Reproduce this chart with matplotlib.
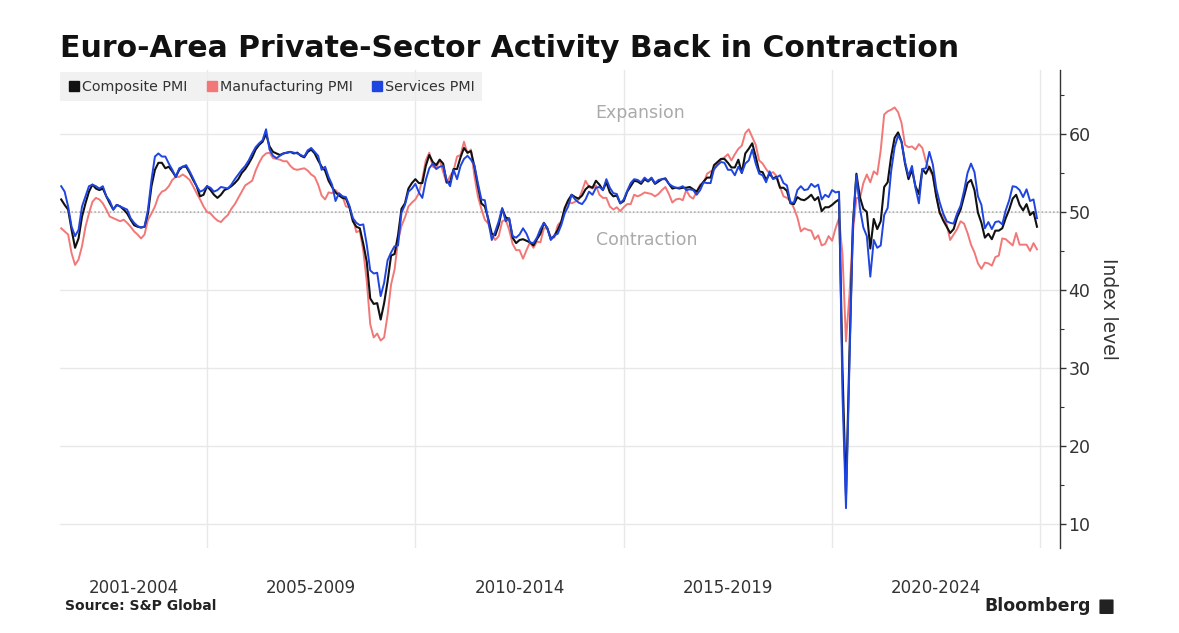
import numpy as np
import pandas as pd
import matplotlib
matplotlib.use("Agg")
import matplotlib.pyplot as plt
from matplotlib.lines import Line2D
from matplotlib.patches import FancyBboxPatch

# Monthly euro-area PMI readings, Jun 2001 .. Nov 2024
start_month = "2001-06"

composite = [
    51.6, 50.9, 50.3, 47.7, 45.4, 46.6, 49.4,                          # 2001 (Jun-Dec)
    51.1, 52.6, 53.5, 53.0, 52.8, 53.0, 52.0, 51.1, 50.3, 50.9, 50.7, 50.3,  # 2002
    49.8, 49.0, 48.3, 48.1, 48.0, 48.1, 49.8, 53.3, 55.4, 56.3, 56.3, 55.6,  # 2003
    55.8, 55.2, 54.5, 55.4, 55.8, 55.8, 55.0, 54.1, 53.3, 52.0, 52.2, 53.3,  # 2004
    52.8, 52.2, 51.8, 52.2, 52.8, 53.0, 53.3, 53.7, 54.2, 55.0, 55.5, 56.2,  # 2005
    57.0, 58.0, 58.6, 59.0, 60.0, 58.4, 57.7, 57.5, 57.3, 57.5, 57.6, 57.7,  # 2006
    57.5, 57.6, 57.2, 57.0, 57.7, 58.0, 57.5, 56.6, 55.8, 55.3, 54.0, 53.2,  # 2007
    52.5, 52.1, 51.8, 51.7, 50.6, 48.8, 48.1, 47.9, 45.9, 43.6, 38.9, 38.2,  # 2008
    38.3, 36.2, 38.3, 41.1, 44.4, 44.6, 47.0, 50.4, 51.1, 53.0, 53.7, 54.2,  # 2009
    53.7, 53.7, 55.9, 57.3, 56.4, 56.0, 56.7, 56.2, 53.8, 53.8, 55.5, 55.5,  # 2010
    57.0, 58.2, 57.6, 57.8, 55.8, 53.3, 51.1, 50.7, 49.1, 47.2, 47.0, 48.3,  # 2011
    50.4, 49.3, 49.1, 46.7, 46.0, 46.4, 46.5, 46.3, 46.1, 45.7, 46.5, 47.2,  # 2012
    48.6, 47.9, 46.5, 46.9, 47.7, 48.7, 50.5, 51.5, 52.2, 51.9, 51.7, 52.1,  # 2013
    52.9, 53.3, 53.1, 54.0, 53.5, 52.8, 53.8, 52.5, 52.0, 52.1, 51.1, 51.4,  # 2014
    52.6, 53.3, 54.0, 53.9, 53.6, 54.2, 53.9, 54.3, 53.6, 53.9, 54.2, 54.3,  # 2015
    53.6, 53.0, 53.1, 53.0, 53.1, 53.1, 53.2, 52.9, 52.6, 53.3, 53.9, 54.4,  # 2016
    54.4, 56.0, 56.4, 56.8, 56.8, 56.3, 55.7, 55.7, 56.7, 55.0, 57.5, 58.1,  # 2017
    58.8, 57.1, 55.2, 55.1, 54.1, 54.9, 54.3, 54.5, 53.1, 53.1, 52.7, 51.1,  # 2018
    51.0, 51.9, 51.6, 51.5, 51.8, 52.2, 51.5, 51.9, 50.1, 50.6, 50.6, 50.9,  # 2019
    51.3, 51.6, 29.7, 13.6, 31.9, 48.5, 54.9, 51.9, 50.4, 50.0, 45.3, 49.1,  # 2020
    47.8, 48.8, 53.2, 53.8, 57.1, 59.5, 60.2, 59.0, 56.2, 54.2, 55.4, 53.3,  # 2021
    52.3, 55.5, 54.9, 55.8, 54.8, 52.0, 49.9, 48.9, 48.1, 47.3, 47.8, 49.3,  # 2022
    50.3, 52.0, 53.7, 54.1, 52.8, 49.9, 48.6, 46.7, 47.2, 46.5, 47.6, 47.6,  # 2023
    47.9, 49.2, 50.3, 51.7, 52.2, 50.9, 50.2, 51.0, 49.6, 50.0, 48.1,        # 2024 (Jan-Nov)
]

manufacturing = [
    47.9, 47.5, 47.1, 44.7, 43.2, 43.9, 45.6,
    48.1, 49.8, 51.3, 51.8, 51.6, 51.1, 50.3, 49.4, 49.2, 49.0, 48.8, 49.0,
    48.6, 48.1, 47.5, 47.1, 46.6, 47.1, 49.0, 49.8, 50.7, 52.0, 52.6, 52.8,
    53.3, 54.1, 54.5, 54.5, 54.8, 54.5, 54.1, 53.3, 52.4, 51.6, 50.7, 50.0,
    49.8, 49.3, 48.9, 48.7, 49.2, 49.6, 50.4, 51.0, 51.8, 52.6, 53.4, 53.7,
    54.0, 55.3, 56.3, 57.1, 57.5, 57.6, 56.9, 56.8, 56.7, 56.5, 56.5, 55.9,
    55.5, 55.4, 55.5, 55.6, 55.3, 54.8, 54.5, 53.5, 52.1, 51.6, 52.5, 52.4,
    52.8, 52.3, 52.0, 50.7, 50.6, 49.2, 47.4, 47.6, 45.0, 41.1, 35.6, 33.9,
    34.4, 33.5, 33.9, 36.8, 40.7, 42.6, 46.3, 48.2, 49.3, 50.7, 51.2, 51.6,
    52.4, 54.2, 56.6, 57.6, 55.8, 55.6, 56.7, 55.1, 53.7, 54.6, 55.3, 57.1,
    57.3, 59.0, 57.5, 58.0, 54.6, 52.0, 50.4, 49.0, 48.5, 47.1, 46.4, 46.9,
    48.8, 49.0, 47.7, 45.9, 45.1, 45.1, 44.0, 45.1, 46.1, 45.4, 46.2, 46.1,
    47.9, 47.9, 46.8, 46.7, 48.3, 48.8, 50.3, 51.4, 51.1, 51.3, 51.6, 52.7,
    54.0, 53.2, 53.0, 53.4, 52.2, 51.8, 51.8, 50.7, 50.3, 50.6, 50.1, 50.6,
    51.0, 51.0, 52.2, 52.0, 52.2, 52.5, 52.4, 52.3, 52.0, 52.3, 52.8, 53.2,
    52.3, 51.2, 51.6, 51.7, 51.5, 52.8, 52.0, 51.7, 52.6, 53.5, 53.7, 54.9,
    55.2, 55.4, 56.2, 56.7, 57.0, 57.4, 56.6, 57.4, 58.1, 58.5, 60.1, 60.6,
    59.6, 58.6, 56.6, 56.2, 55.5, 54.9, 55.1, 54.6, 53.2, 52.0, 51.8, 51.4,
    50.5, 49.3, 47.5, 47.9, 47.7, 47.6, 46.5, 47.0, 45.7, 45.9, 46.9, 46.3,
    47.9, 49.2, 44.5, 33.4, 39.4, 47.4, 51.8, 51.7, 53.7, 54.8, 53.8, 55.2,
    54.8, 57.9, 62.5, 62.9, 63.1, 63.4, 62.8, 61.4, 58.6, 58.3, 58.4, 58.0,
    58.7, 58.2, 56.5, 55.5, 54.6, 52.1, 49.8, 49.6, 48.4, 46.4, 47.1, 47.8,
    48.8, 48.5, 47.3, 45.8, 44.8, 43.4, 42.7, 43.5, 43.4, 43.1, 44.2, 44.4,
    46.6, 46.5, 46.1, 45.7, 47.3, 45.8, 45.8, 45.8, 45.0, 46.0, 45.2,
]

services = [
    53.3, 52.6, 50.7, 48.1, 46.9, 47.7, 50.7,
    52.0, 53.3, 53.5, 53.3, 53.0, 53.3, 52.0, 51.4, 50.3, 50.9, 50.7, 50.5,
    50.3, 49.2, 48.6, 48.2, 48.0, 48.1, 50.3, 54.1, 57.1, 57.5, 57.1, 57.1,
    56.2, 55.4, 54.5, 55.6, 55.8, 56.0, 55.2, 54.3, 53.3, 52.6, 52.8, 53.3,
    53.1, 52.6, 52.8, 53.2, 53.1, 53.0, 53.5, 54.2, 54.8, 55.4, 55.9, 56.6,
    57.5, 58.3, 58.8, 59.2, 60.6, 58.0, 57.2, 56.9, 57.2, 57.5, 57.6, 57.7,
    57.6, 57.5, 57.3, 57.1, 57.9, 58.2, 57.7, 57.2, 55.4, 55.8, 54.5, 53.5,
    51.4, 52.4, 52.0, 51.9, 50.8, 49.2, 48.6, 48.3, 48.4, 45.8, 42.5, 42.1,
    42.2, 39.2, 40.9, 43.8, 44.8, 45.6, 45.7, 49.9, 50.9, 52.6, 53.0, 53.6,
    52.5, 51.8, 54.1, 55.6, 56.2, 55.5, 55.8, 55.9, 54.1, 53.3, 55.4, 54.2,
    55.9, 56.8, 57.2, 56.7, 56.0, 53.7, 51.6, 51.5, 48.8, 46.4, 47.5, 48.8,
    50.5, 48.8, 49.2, 46.9, 46.7, 47.1, 47.9, 47.2, 46.1, 46.0, 46.7, 47.8,
    48.6, 47.9, 46.4, 47.0, 47.2, 48.3, 49.8, 50.7, 52.2, 51.6, 51.2, 51.0,
    51.6, 52.6, 52.2, 53.1, 53.2, 52.8, 54.2, 53.1, 52.4, 52.3, 51.1, 51.6,
    52.7, 53.7, 54.2, 54.1, 53.8, 54.4, 54.0, 54.4, 53.7, 54.1, 54.2, 54.2,
    53.6, 53.3, 53.1, 53.1, 53.3, 52.8, 52.9, 52.8, 52.2, 52.8, 53.8, 53.7,
    53.7, 55.5, 56.0, 56.4, 56.3, 55.4, 55.4, 54.7, 55.8, 55.0, 56.2, 56.6,
    58.0, 56.2, 54.9, 54.7, 53.8, 55.2, 54.2, 54.4, 54.7, 53.7, 53.4, 51.2,
    51.2, 52.8, 53.3, 52.8, 52.9, 53.6, 53.2, 53.5, 51.6, 52.2, 51.9, 52.8,
    52.5, 52.6, 26.4, 12.0, 30.5, 48.3, 54.7, 50.5, 48.0, 46.9, 41.7, 46.4,
    45.4, 45.7, 49.6, 50.5, 55.2, 58.3, 59.8, 59.0, 56.4, 54.6, 55.9, 53.1,
    51.1, 55.5, 55.6, 57.7, 56.1, 53.0, 51.2, 49.8, 48.8, 48.6, 48.5, 49.8,
    50.8, 52.7, 55.0, 56.2, 55.1, 52.0, 50.9, 47.9, 48.7, 47.8, 48.7, 48.8,
    48.4, 50.2, 51.5, 53.3, 53.2, 52.8, 51.9, 52.9, 51.4, 51.6, 49.2,
]

period_labels = ["2001-2004", "2005-2009", "2010-2014", "2015-2019", "2020-2024"]
period_starts = [2005, 2010, 2015, 2020, 2025]
y_ticks = [10, 20, 30, 40, 50, 60]

# month-end positions as decimal years
dates = pd.date_range(start_month, periods=len(composite), freq="MS")
x = dates.year + dates.month / 12.0

c_black = "#111111"
c_red = "#f27878"
c_blue = "#1f45e0"
c_grid = "#e8e8e8"
c_text = "#333333"

fig = plt.figure(figsize=(11.79, 6.33), dpi=100)
ax = fig.add_axes([0.0509, 0.1343, 0.8482, 0.7551])

x_min, x_max = 2001.472, 2025.47
ax.set_xlim(x_min, x_max)
ax.set_ylim(6.9, 68.2)

# grid
for yv in y_ticks:
    ax.axhline(yv, color=c_grid, lw=1, zorder=0)
for xv in period_starts:
    ax.axvline(xv, color=c_grid, lw=1, zorder=0)
ax.axhline(50, color="#aaaaaa", lw=1.1, ls=(0, (1, 1.5)), zorder=1)

ax.plot(x, manufacturing, color=c_red, lw=1.4, zorder=2)
ax.plot(x, composite, color=c_black, lw=1.5, zorder=3)
ax.plot(x, services, color=c_blue, lw=1.4, zorder=4)

ax.text(2015.39, 62.7, "Expansion", color="#aaaaaa", fontsize=12.5,
        ha="center", va="center")
ax.text(2015.55, 46.4, "Contraction", color="#aaaaaa", fontsize=12.5,
        ha="center", va="center")

# spines and ticks
for s in ["left", "top", "bottom"]:
    ax.spines[s].set_visible(False)
ax.spines["right"].set_color(c_text)
ax.spines["right"].set_linewidth(1.0)
ax.yaxis.tick_right()
ax.yaxis.set_label_position("right")
ax.set_yticks(y_ticks)
ax.set_yticks([15, 25, 35, 45, 55, 65], minor=True)
ax.tick_params(axis="y", which="major", length=4, width=1, color=c_text,
               labelsize=12.5, labelcolor=c_text, pad=2)
ax.tick_params(axis="y", which="minor", length=3, width=0.8, color=c_text)
ax.set_ylabel("Index level", rotation=270, fontsize=13.5, color=c_text,
              labelpad=20)

bounds = [x_min] + period_starts[:-1]
ends = period_starts
centers = [(a + b) / 2 for a, b in zip(bounds, ends)]
ax.set_xticks(centers)
ax.set_xticklabels(period_labels)
ax.tick_params(axis="x", length=0, labelsize=12, labelcolor=c_text, pad=22)

# legend
handles = [Line2D([], [], marker="s", ls="none", color=c, markersize=7)
           for c in (c_black, c_red, c_blue)]
leg = ax.legend(handles, ["Composite PMI", "Manufacturing PMI", "Services PMI"],
                loc="upper left", bbox_to_anchor=(0.0, 0.995), ncol=3,
                frameon=True, fancybox=False, fontsize=10.3,
                handletextpad=0.05, columnspacing=1.2, borderpad=0.5,
                handlelength=1.0, borderaxespad=0.0)
leg.get_frame().set_facecolor("#eeeeee")
leg.get_frame().set_edgecolor("none")
for t in leg.get_texts():
    t.set_color(c_text)

fig.text(0.0509, 1 - 57 / 633, "Euro-Area Private-Sector Activity Back in Contraction",
         fontsize=21.5, fontweight="bold", color="#111111", va="baseline")
fig.text(0.055, 0.042, "Source: S&P Global", fontsize=10, fontweight="bold",
         color="#222222", va="center")
fig.text(0.925, 0.042, "Bloomberg", fontsize=12.5, fontweight="bold",
         color="#222222", va="center", ha="right")
fig.patches.append(FancyBboxPatch((0.9335, 0.031), 0.010, 0.021,
                                  boxstyle="round,pad=0.001", transform=fig.transFigure,
                                  facecolor="#222222", edgecolor="none"))

fig.savefig("out.png", dpi=100)
